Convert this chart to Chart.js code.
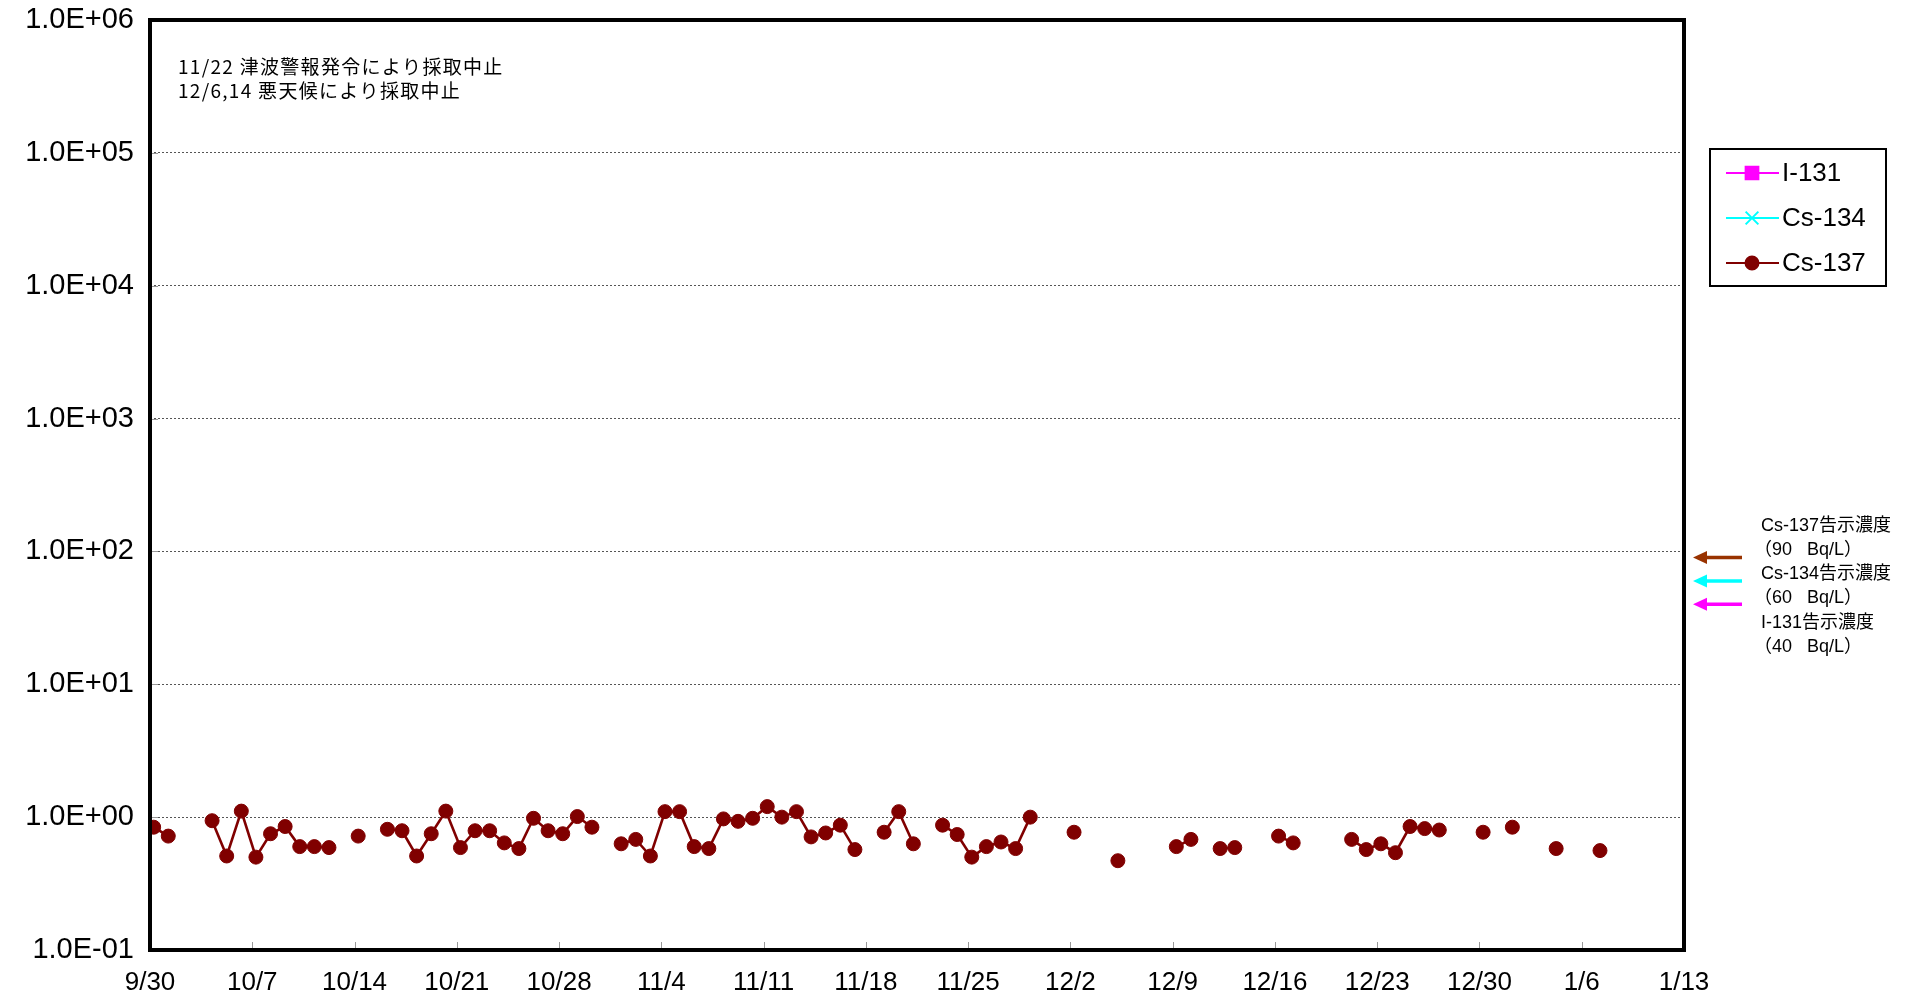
<!DOCTYPE html>
<html>
<head>
<meta charset="utf-8">
<script src="https://cdn.jsdelivr.net/npm/chart.js@4.4.1/dist/chart.umd.min.js"></script>
<style>
  html, body { margin: 0; padding: 0; background: #fff; }
  #wrap { width: 1917px; height: 1000px; position: relative; }
</style>
</head>
<body>
<div id="wrap"><canvas id="c"></canvas></div>
<script>
///////////////////////////////////////////////////////////////
// data
///////////////////////////////////////////////////////////////

const START_DATE = '9/30';
const SAMPLE_OFFSET = 0.25; // sampling time of day (fraction)

const X_TICK_LABELS = ['9/30', '10/7', '10/14', '10/21', '10/28', '11/4', '11/11', '11/18',
  '11/25', '12/2', '12/9', '12/16', '12/23', '12/30', '1/6', '1/13'];

const Y_TICKS = [0.1, 1, 10, 100, 1000, 10000, 100000, 1000000];

const CS137_DATES = [
  '9/30', '10/1', '10/4', '10/5', '10/6', '10/7', '10/8', '10/9', '10/10', '10/11', '10/12',
  '10/14', '10/16', '10/17', '10/18', '10/19', '10/20', '10/21', '10/22', '10/23', '10/24',
  '10/25', '10/26', '10/27', '10/28', '10/29', '10/30', '11/1', '11/2', '11/3', '11/4', '11/5',
  '11/6', '11/7', '11/8', '11/9', '11/10', '11/11', '11/12', '11/13', '11/14', '11/15', '11/16',
  '11/17', '11/19', '11/20', '11/21', '11/23', '11/24', '11/25', '11/26', '11/27', '11/28',
  '11/29', '12/2', '12/5', '12/9', '12/10', '12/12', '12/13', '12/16', '12/17', '12/21',
  '12/22', '12/23', '12/24', '12/25', '12/26', '12/27', '12/30', '1/1', '1/4', '1/7'
];
const CS137_VALUES = [
  0.84, 0.72, 0.94, 0.51, 1.11, 0.50, 0.75, 0.85, 0.60, 0.60, 0.59,
  0.72, 0.81, 0.79, 0.51, 0.75, 1.11, 0.59, 0.79, 0.79, 0.64,
  0.58, 0.98, 0.79, 0.75, 1.01, 0.84, 0.63, 0.68, 0.51, 1.10, 1.10,
  0.60, 0.58, 0.97, 0.93, 0.98, 1.20, 1.00, 1.10, 0.71, 0.76, 0.87,
  0.57, 0.77, 1.10, 0.63, 0.87, 0.74, 0.50, 0.60, 0.65, 0.58,
  1.00, 0.77, 0.47, 0.60, 0.68, 0.58, 0.59, 0.72, 0.64, 0.68,
  0.57, 0.63, 0.54, 0.85, 0.82, 0.80, 0.77, 0.84, 0.58, 0.56
];

// I-131 / Cs-134: not detected (legend only)
const I131_VALUES = [];
const CS134_VALUES = [];

const LIMIT_NAMES = ['Cs-137', 'Cs-134', 'I-131'];
const LIMIT_VALUES = [90, 60, 40];
const LIMIT_COLORS = ['#993300', '#00FFFF', '#FF00FF'];

const NOTES = ['11/22 津波警報発令により採取中止', '12/6,14 悪天候により採取中止'];

///////////////////////////////////////////////////////////////
// helpers
///////////////////////////////////////////////////////////////

function dayIndex(md) {
  const [m, d] = md.split('/').map(Number);
  const [m0, d0] = START_DATE.split('/').map(Number);
  const yr = m >= 9 ? 2011 : 2012;
  return Math.round((Date.UTC(yr, m - 1, d) - Date.UTC(2011, m0 - 1, d0)) / 86400000);
}

// daily series, null where no sample -> line breaks
function buildSeries(dates, values) {
  const pts = [];
  let prev = null;
  dates.forEach((dt, i) => {
    const day = dayIndex(dt);
    if (prev !== null && day - prev > 1) pts.push({ x: prev + 1 + SAMPLE_OFFSET, y: null });
    pts.push({ x: day + SAMPLE_OFFSET, y: values[i] });
    prev = day;
  });
  return pts;
}

function fmtExp(v) {
  const e = Math.round(Math.log10(v));
  const sign = e < 0 ? '-' : '+';
  return '1.0E' + sign + String(Math.abs(e)).padStart(2, '0');
}

const FONT = "'Liberation Sans', Arial, sans-serif";
const FONT_JP = "'Noto Sans CJK JP', 'Liberation Sans', sans-serif";
const FONT_MIX = "'Liberation Sans', 'Noto Sans CJK JP', sans-serif";

///////////////////////////////////////////////////////////////
// overlay: frame, inside ticks, notes, legend, limit arrows
///////////////////////////////////////////////////////////////

const overlay = {
  id: 'overlay',
  afterDraw(chart) {
    const { ctx, chartArea: a, scales } = chart;
    ctx.save();

    // inside tick marks
    ctx.strokeStyle = '#999';
    ctx.lineWidth = 1;
    ctx.beginPath();
    scales.x.ticks.forEach(t => {
      const px = Math.round(scales.x.getPixelForValue(t.value)) + 0.5;
      ctx.moveTo(px, a.bottom);
      ctx.lineTo(px, a.bottom - 8);
    });
    scales.y.ticks.forEach(t => {
      const py = Math.round(scales.y.getPixelForValue(t.value)) + 0.5;
      ctx.moveTo(a.left, py);
      ctx.lineTo(a.left + 8, py);
    });
    ctx.stroke();

    // frame
    ctx.strokeStyle = '#000';
    ctx.lineWidth = 4;
    ctx.strokeRect(a.left, a.top, a.right - a.left, a.bottom - a.top);

    // notes
    ctx.fillStyle = '#000';
    ctx.font = '19px ' + FONT_JP;
    ctx.textAlign = 'left';
    ctx.textBaseline = 'middle';
    ctx.letterSpacing = '1.3px';
    NOTES.forEach((s, i) => ctx.fillText(s, a.left + 28, 67 + i * 24));
    ctx.letterSpacing = '0px';

    // legend box
    const lx = 1710, ly = 149, lw = 176, lh = 137;
    ctx.fillStyle = '#fff';
    ctx.fillRect(lx, ly, lw, lh);
    ctx.strokeStyle = '#000';
    ctx.lineWidth = 2;
    ctx.strokeRect(lx, ly, lw, lh);
    ctx.font = '26px ' + FONT;
    chart.data.datasets.forEach((ds, i) => {
      const y = 173 + i * 45;
      ctx.strokeStyle = ds.borderColor;
      ctx.lineWidth = 2;
      ctx.beginPath();
      ctx.moveTo(1726, y);
      ctx.lineTo(1779, y);
      ctx.stroke();
      ctx.fillStyle = ds.pointBackgroundColor;
      ctx.strokeStyle = ds.borderColor;
      Chart.helpers.drawPoint(ctx, {
        pointStyle: ds.pointStyle, radius: ds.legendRadius, borderWidth: 1.5, rotation: 0
      }, 1752, y);
      ctx.fillStyle = '#000';
      ctx.fillText(ds.label, 1782, y + 1);
    });

    // limit arrows (at the limit value on the y scale)
    LIMIT_VALUES.forEach((v, i) => {
      const py = scales.y.getPixelForValue(v);
      const tip = a.right + 9, tail = a.right + 58;
      ctx.strokeStyle = LIMIT_COLORS[i];
      ctx.fillStyle = LIMIT_COLORS[i];
      ctx.lineWidth = 3.5;
      ctx.beginPath();
      ctx.moveTo(tail, py);
      ctx.lineTo(tip + 10, py);
      ctx.stroke();
      ctx.beginPath();
      ctx.moveTo(tip, py);
      ctx.lineTo(tip + 14, py - 6.5);
      ctx.lineTo(tip + 14, py + 6.5);
      ctx.closePath();
      ctx.fill();
    });

    // limit texts
    ctx.fillStyle = '#000';
    ctx.font = '18px ' + FONT_MIX;
    LIMIT_NAMES.forEach((n, i) => {
      const y0 = 526 + i * 48.5;
      ctx.fillText(n + '告示濃度', 1761, y0);
      ctx.fillText('（' + LIMIT_VALUES[i] + '   Bq/L）', 1754, y0 + 24);
    });

    ctx.restore();
  }
};

///////////////////////////////////////////////////////////////
// chart
///////////////////////////////////////////////////////////////

new Chart(document.getElementById('c').getContext('2d'), {
  type: 'line',
  data: {
    datasets: [
      {
        label: 'I-131',
        data: I131_VALUES,
        borderColor: '#FF00FF',
        pointBackgroundColor: '#FF00FF',
        pointStyle: 'rect',
        legendRadius: 9,
        borderWidth: 2
      },
      {
        label: 'Cs-134',
        data: CS134_VALUES,
        borderColor: '#00FFFF',
        pointBackgroundColor: '#00FFFF',
        pointStyle: 'crossRot',
        legendRadius: 9,
        borderWidth: 2
      },
      {
        label: 'Cs-137',
        data: buildSeries(CS137_DATES, CS137_VALUES),
        borderColor: '#800000',
        backgroundColor: '#800000',
        pointBackgroundColor: '#800000',
        pointBorderColor: '#800000',
        pointStyle: 'circle',
        pointRadius: 7,
        pointBorderWidth: 1,
        legendRadius: 6.5,
        borderWidth: 2.6,
        spanGaps: false,
        tension: 0
      }
    ]
  },
  options: {
    responsive: true,
    maintainAspectRatio: false,
    animation: false,
    devicePixelRatio: 1,
    layout: { padding: { top: 20, right: 233, left: 0, bottom: 0 } },
    plugins: {
      legend: { display: false },
      tooltip: { enabled: false }
    },
    scales: {
      x: {
        type: 'linear',
        min: 0,
        max: 105,
        afterFit: (s) => { s.height = 50; s.paddingLeft = 0; s.paddingRight = 0; },
        afterBuildTicks: (s) => { s.ticks = X_TICK_LABELS.map((_, i) => ({ value: i * 7 })); },
        grid: { display: false, drawTicks: false },
        border: { display: false },
        ticks: {
          autoSkip: false,
          maxRotation: 0,
          padding: 17,
          color: '#000',
          font: { family: FONT, size: 26 },
          callback: (v, i) => X_TICK_LABELS[i]
        }
      },
      y: {
        type: 'logarithmic',
        min: 0.1,
        max: 1000000,
        afterFit: (s) => { s.width = 150; s.paddingTop = 0; s.paddingBottom = 0; },
        afterBuildTicks: (s) => { s.ticks = Y_TICKS.map(v => ({ value: v })); },
        grid: { color: '#555', lineWidth: 1, drawTicks: false },
        border: { display: false, dash: [2, 2] },
        ticks: {
          padding: 16,
          color: '#000',
          font: { family: FONT, size: 29 },
          callback: (v) => fmtExp(v)
        }
      }
    }
  },
  plugins: [overlay]
});
</script>
</body>
</html>
